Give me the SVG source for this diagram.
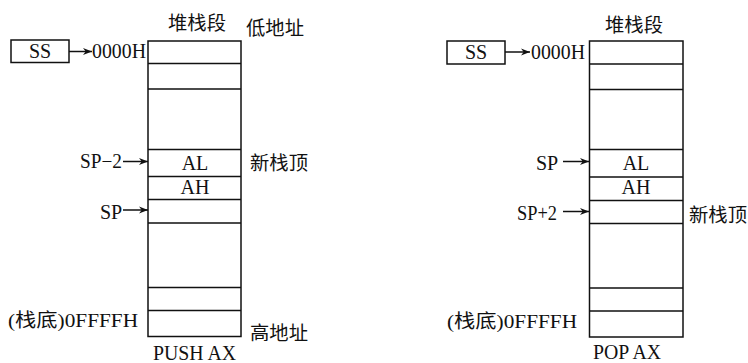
<svg xmlns="http://www.w3.org/2000/svg" width="748" height="363" viewBox="0 0 748 363">
<style>
.t{font-family:'Liberation Serif','Times New Roman',Times,'DejaVu Serif',serif;font-size:20px;fill:#111}
.c{font-family:'Liberation Serif','Times New Roman','DejaVu Serif','Noto Sans CJK SC',serif;font-size:19px;fill:#111}
.m{text-anchor:middle}
.b{fill:#fff;stroke:#111;stroke-width:1.5}
.l{stroke:#111;stroke-width:1.5;fill:none}
.a{stroke:#111;stroke-width:1.5;fill:none;marker-end:url(#ah)}
</style>
<defs>
<marker id="ah" viewBox="0 0 10 10" refX="10" refY="5" markerWidth="12" markerHeight="9" markerUnits="userSpaceOnUse" orient="auto">
<path d="M0,1 L10,5 L0,9 L3,5 Z" fill="#111"/>
</marker>
</defs>
<rect width="748" height="363" fill="#fff"/>
<g id="left-stack">
<rect class="b" x="148" y="41" width="93" height="295.5"/>
<path class="l" d="M148 63.5H241M148 89H241M148 149.5H241M148 176.5H241M148 199.5H241M148 223H241M148 287.5H241M148 310.5H241"/>
<text class="c m" x="197" y="30" textLength="58" lengthAdjust="spacingAndGlyphs">堆栈段</text>
<text class="c" x="246" y="35" textLength="58" lengthAdjust="spacingAndGlyphs">低地址</text>
<text class="t m" x="195" y="170">AL</text>
<text class="t m" x="195" y="194">AH</text>
<text class="c" x="250" y="170" textLength="58" lengthAdjust="spacingAndGlyphs">新栈顶</text>
<text class="c" x="250" y="340" textLength="58" lengthAdjust="spacingAndGlyphs">高地址</text>
<text class="t" x="153" y="360" textLength="83" lengthAdjust="spacingAndGlyphs">PUSH AX</text>
<text class="c" x="8" y="327" textLength="130" lengthAdjust="spacingAndGlyphs">(栈底)0FFFFH</text>
</g>
<g id="left-ss">
<rect class="b" x="11" y="40" width="58" height="22.5"/>
<text class="t m" x="40" y="58">SS</text>
<text class="t" x="92" y="58" textLength="54" lengthAdjust="spacingAndGlyphs">0000H</text>
</g>
<g id="left-sp">
<text class="t" x="80" y="168" textLength="42" lengthAdjust="spacingAndGlyphs">SP−2</text>
<text class="t" x="100" y="219">SP</text>
</g>
<g id="right-stack">
<rect class="b" x="589.5" y="41" width="93.5" height="296"/>
<path class="l" d="M589.5 64H683M589.5 89.5H683M589.5 149.5H683M589.5 177H683M589.5 200.5H683M589.5 223.5H683M589.5 288H683M589.5 311H683"/>
<text class="c m" x="634" y="32" textLength="58" lengthAdjust="spacingAndGlyphs">堆栈段</text>
<text class="t m" x="636" y="170">AL</text>
<text class="t m" x="636" y="194">AH</text>
<text class="c" x="689" y="222" textLength="58" lengthAdjust="spacingAndGlyphs">新栈顶</text>
<text class="t" x="593" y="359" textLength="68" lengthAdjust="spacingAndGlyphs">POP AX</text>
<text class="c" x="447" y="328" textLength="130" lengthAdjust="spacingAndGlyphs">(栈底)0FFFFH</text>
</g>
<g id="right-ss">
<rect class="b" x="447" y="41" width="58" height="23"/>
<text class="t m" x="476" y="59">SS</text>
<text class="t" x="531" y="59" textLength="54" lengthAdjust="spacingAndGlyphs">0000H</text>
</g>
<g id="right-sp">
<text class="t" x="536" y="170">SP</text>
<text class="t" x="517" y="220" textLength="40" lengthAdjust="spacingAndGlyphs">SP+2</text>
</g>
<g id="connectors">
<path class="a" d="M69 51.5H92"/>
<path class="a" d="M123 161.5H148"/>
<path class="a" d="M123 210H148"/>
<path class="a" d="M505 52H530"/>
<path class="a" d="M563 161.5H589"/>
<path class="a" d="M563 211.5H589"/>
</g>
</svg>
